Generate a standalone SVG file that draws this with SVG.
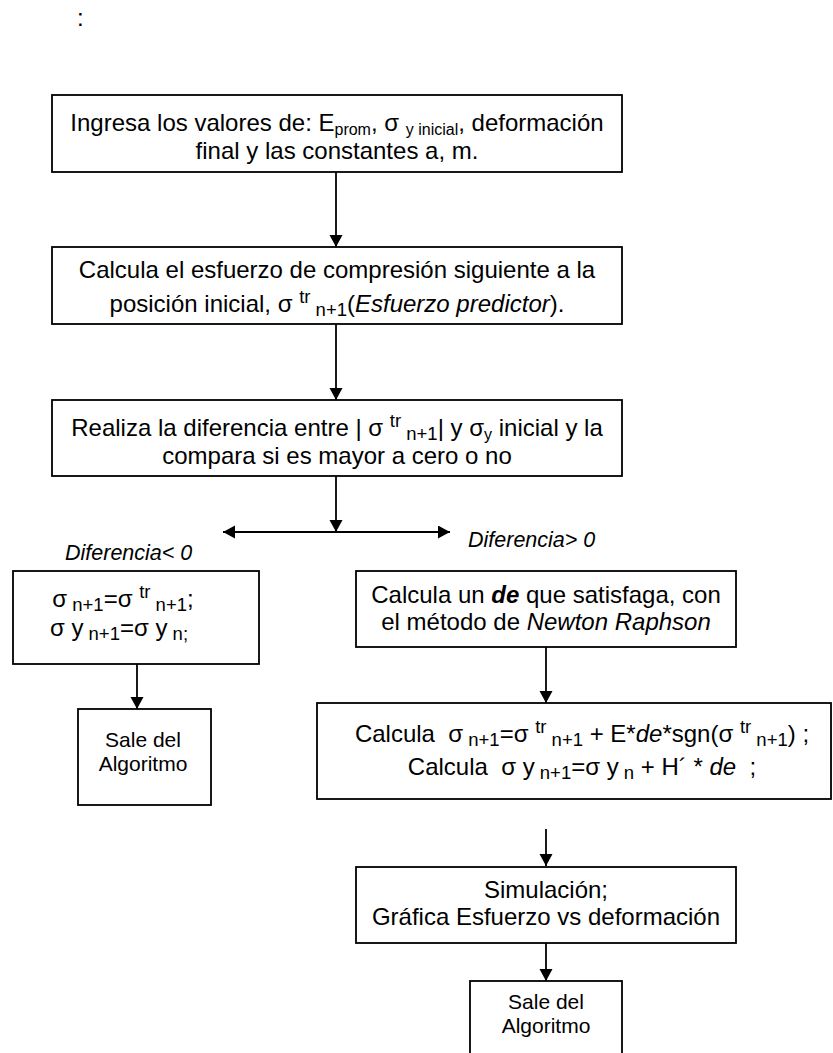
<svg xmlns="http://www.w3.org/2000/svg" width="833" height="1053" viewBox="0 0 833 1053">
<style>
.b{fill:#fff;stroke:#000;stroke-width:1.8}
.t{font-family:"Liberation Sans",Arial,sans-serif;font-size:24px;fill:#000;text-anchor:middle}
.s{font-size:18.5px}
.s2{font-size:16px}
.sm{font-size:21px}
.lb{font-size:21.5px;font-style:italic;text-anchor:start}
.i{font-style:italic}
.bi{font-style:italic;font-weight:bold}
.c{stroke:#000;stroke-width:1.8;fill:none}
</style>
<defs>
<marker id="ah" markerUnits="userSpaceOnUse" markerWidth="14" markerHeight="14" refX="12" refY="6.5" orient="auto-start-reverse" viewBox="0 0 14 14">
<path d="M0,0 L12,6.5 L0,13 z" fill="#000"/>
</marker>
</defs>
<rect width="833" height="1053" fill="#fff"/>
<text x="77" y="26" class="t" style="text-anchor:start">:</text>

<g id="connectors">
<line class="c" x1="336" y1="172" x2="336" y2="247" marker-end="url(#ah)"/>
<line class="c" x1="336" y1="324" x2="336" y2="400" marker-end="url(#ah)"/>
<line class="c" x1="336" y1="476" x2="336" y2="532" marker-end="url(#ah)"/>
<line class="c" x1="223" y1="532" x2="450" y2="532" marker-start="url(#ah)" marker-end="url(#ah)"/>
<line class="c" x1="137" y1="664" x2="137" y2="709" marker-end="url(#ah)"/>
<line class="c" x1="546" y1="647" x2="546" y2="703" marker-end="url(#ah)"/>
<line class="c" x1="546" y1="829" x2="546" y2="866" marker-end="url(#ah)"/>
<line class="c" x1="546" y1="943" x2="546" y2="981" marker-end="url(#ah)"/>
</g>

<g id="n1">
<rect class="b" x="52" y="95" width="570" height="77"/>
<text class="t" x="337" y="131" xml:space="preserve">Ingresa los valores de: E<tspan class="s2" dy="4">prom</tspan><tspan dy="-4">, σ </tspan><tspan class="s2" dy="4">y inicial</tspan><tspan dy="-4">, deformación</tspan></text>
<text class="t" x="337" y="159">final y las constantes a, m.</text>
</g>

<g id="n2">
<rect class="b" x="52" y="247" width="570" height="77"/>
<text class="t" x="337" y="278">Calcula el esfuerzo de compresión siguiente a la</text>
<text class="t" x="337" y="312" xml:space="preserve">posición inicial, σ <tspan class="s" dy="-9">tr</tspan><tspan class="s" dy="13"> n+1</tspan><tspan dy="-4">(</tspan><tspan class="i">Esfuerzo predictor</tspan>).</text>
</g>

<g id="n3">
<rect class="b" x="52" y="400" width="570" height="76"/>
<text class="t" x="337" y="436" xml:space="preserve">Realiza la diferencia entre | σ <tspan class="s" dy="-9">tr</tspan><tspan class="s" dy="13"> n+1</tspan><tspan dy="-4">| y σ</tspan><tspan class="s2" dy="4">y</tspan><tspan dy="-4"> inicial y la</tspan></text>
<text class="t" x="337" y="464">compara si es mayor a cero o no</text>
</g>

<g id="label-neg">
<text class="t lb" x="65" y="560">Diferencia&lt; 0</text>
</g>
<g id="label-pos">
<text class="t lb" x="468" y="547">Diferencia&gt; 0</text>
</g>

<g id="n4">
<rect class="b" x="13" y="571" width="246" height="93"/>
<text class="t" x="123" y="607" xml:space="preserve">σ<tspan class="s" dy="4"> n+1</tspan><tspan dy="-4">=σ </tspan><tspan class="s" dy="-9">tr</tspan><tspan class="s" dy="13"> n+1</tspan><tspan dy="-4">;</tspan></text>
<text class="t" x="119" y="636" xml:space="preserve">σ y<tspan class="s" dy="4"> n+1</tspan><tspan dy="-4">=σ y</tspan><tspan class="s" dy="4"> n;</tspan></text>
</g>

<g id="n5">
<rect class="b" x="78" y="709" width="133" height="96"/>
<text class="t sm" x="143" y="747">Sale del</text>
<text class="t sm" x="143" y="771">Algoritmo</text>
</g>

<g id="n6">
<rect class="b" x="356" y="571" width="380" height="76"/>
<text class="t" x="546" y="603" xml:space="preserve">Calcula un <tspan class="bi">de</tspan> que satisfaga, con</text>
<text class="t" x="546" y="630" xml:space="preserve">el método de <tspan class="i">Newton Raphson</tspan></text>
</g>

<g id="n7">
<rect class="b" x="317" y="703" width="514" height="96"/>
<text class="t" x="582" y="742" xml:space="preserve">Calcula  σ<tspan class="s" dy="4"> n+1</tspan><tspan dy="-4">=σ </tspan><tspan class="s" dy="-9">tr</tspan><tspan class="s" dy="13"> n+1</tspan><tspan dy="-4"> + E*</tspan><tspan class="i">de</tspan>*sgn(σ <tspan class="s" dy="-9">tr</tspan><tspan class="s" dy="13"> n+1</tspan><tspan dy="-4">) ;</tspan></text>
<text class="t" x="582" y="775" xml:space="preserve">Calcula  σ y<tspan class="s" dy="4"> n+1</tspan><tspan dy="-4">=σ y</tspan><tspan class="s" dy="4"> n</tspan><tspan dy="-4"> + H´ * </tspan><tspan class="i">de</tspan>  ;</text>
</g>

<g id="n8">
<rect class="b" x="356" y="867" width="380" height="76"/>
<text class="t" x="546" y="898">Simulación;</text>
<text class="t" x="546" y="925">Gráfica Esfuerzo vs deformación</text>
</g>

<g id="n9">
<rect class="b" x="470" y="981" width="152" height="90"/>
<text class="t sm" x="546" y="1009">Sale del</text>
<text class="t sm" x="546" y="1033">Algoritmo</text>
</g>
</svg>
